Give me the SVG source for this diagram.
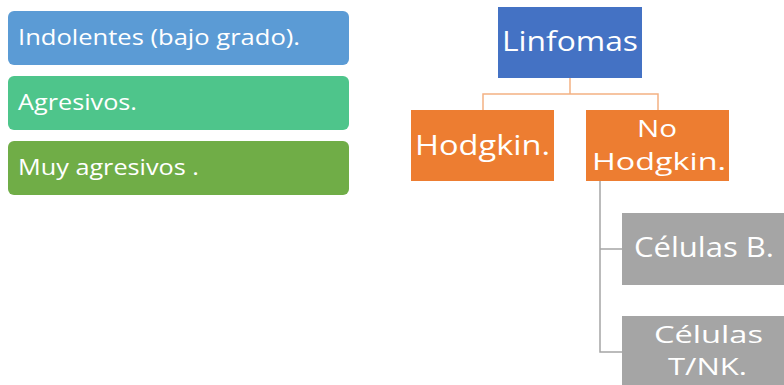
<svg xmlns="http://www.w3.org/2000/svg" width="784" height="385" viewBox="0 0 784 385">
<style>
.t{font-family:"Open Sans","Liberation Sans",sans-serif;fill:#fff}
.l{font-size:22px}
.c{font-size:27px}
.m{font-size:24px}
</style>
<rect width="784" height="385" fill="#fff"/>
<g id="indolentes"><rect x="8" y="11" width="341" height="54" rx="6" fill="#5B9BD5"/><text class="t l" x="18" y="45" textLength="282" lengthAdjust="spacingAndGlyphs">Indolentes (bajo grado).</text></g>
<g id="agresivos"><rect x="8" y="76" width="341" height="54" rx="6" fill="#4EC58B"/><text class="t l" x="18" y="110" textLength="119" lengthAdjust="spacingAndGlyphs">Agresivos.</text></g>
<g id="muy-agresivos"><rect x="8" y="141" width="341" height="54" rx="6" fill="#70AD47"/><text class="t l" x="18" y="175" textLength="181" lengthAdjust="spacingAndGlyphs">Muy agresivos .</text></g>
<g id="connectors" fill="none">
<path d="M570 78V94M483 110V94H658V110" stroke="#F4B183" stroke-width="1.5"/>
<path d="M600 181V352H622M600 249H622" stroke="#A5A5A5" stroke-width="1.5"/>
</g>
<g id="linfomas"><rect x="498" y="7" width="144" height="71" fill="#4472C4"/><text class="t c" x="502" y="51" textLength="136" lengthAdjust="spacingAndGlyphs">Linfomas</text></g>
<g id="hodgkin"><rect x="411" y="110" width="143" height="71" fill="#ED7D31"/><text class="t c" x="415" y="155" textLength="135" lengthAdjust="spacingAndGlyphs">Hodgkin.</text></g>
<g id="no-hodgkin"><rect x="586" y="110" width="143" height="71" fill="#ED7D31"/><text class="t m" x="637" y="137" textLength="40" lengthAdjust="spacingAndGlyphs">No</text><text class="t m" x="592" y="170" textLength="134" lengthAdjust="spacingAndGlyphs">Hodgkin.</text></g>
<g id="celulas-b"><rect x="622" y="213" width="166" height="72" fill="#A5A5A5"/><text class="t c" x="634" y="257" textLength="140" lengthAdjust="spacingAndGlyphs">Células B.</text></g>
<g id="celulas-tnk"><rect x="622" y="316" width="166" height="72" fill="#A5A5A5"/><text class="t m" x="654" y="343" textLength="109" lengthAdjust="spacingAndGlyphs">Células</text><text class="t m" x="668" y="375" textLength="79" lengthAdjust="spacingAndGlyphs">T/NK.</text></g>
</svg>
